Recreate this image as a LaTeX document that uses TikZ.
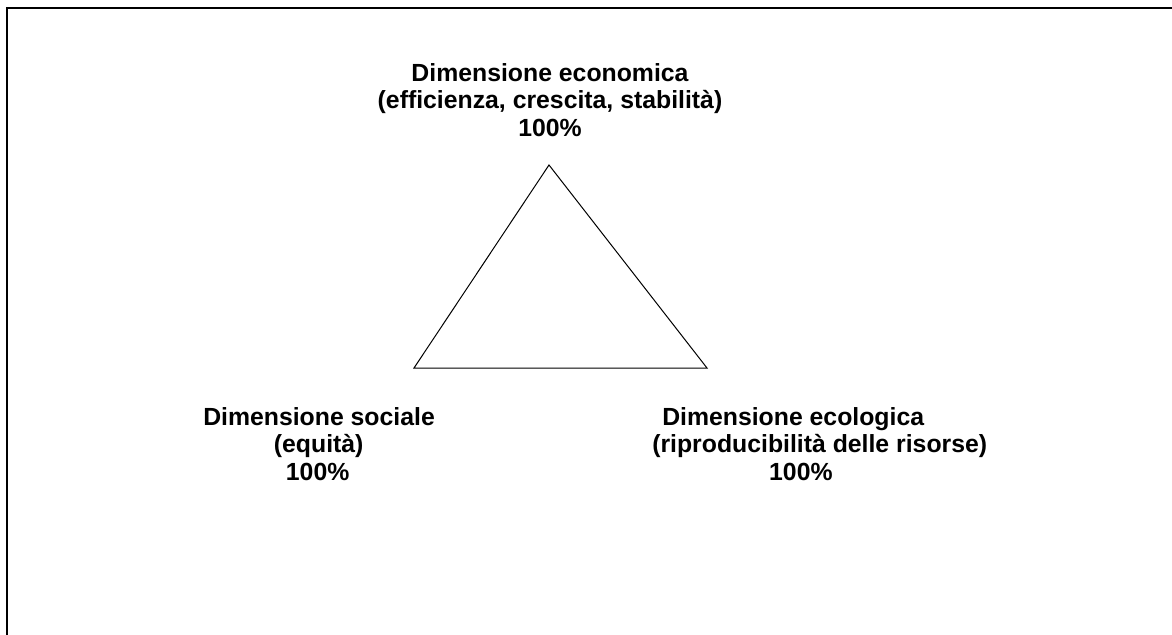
\documentclass[tikz,border=0pt]{standalone}
\usepackage{fontspec}
\setmainfont{Liberation Sans}

\begin{document}
\begin{tikzpicture}
		[
			x=0.75pt, y=-0.75pt,
			dim/.style={font=\bfseries\fontsize{18.6}{20.6}\selectfont, inner sep=0pt},
			dimlow/.style={dim, align=left, anchor=west},
			frame/.style={line width=1.5pt},
		]

		\useasboundingbox (0,0) rectangle (1172,635);

		% Frame
		\draw[frame] (7,635) -- (7,8) -- (1172,8);

		% Corners
		\foreach \name/\x/\y in
		{
			eco/549/165,
			soc/414/368,
			ecl/707/368
		}
			\coordinate (\name) at (\x,\y);

		% Triangle
		\draw[line width=0.75pt] (eco) -- (soc) -- (ecl) -- cycle;

		% Labels
		\node[dim, align=center] (leco) at (550,100)
			{Dimensione economica\\(efficienza, crescita, stabilità)\\100\%};
		\node[dimlow] (lsoc) at (203,444)
			{Dimensione sociale\\\hspace*{53pt}(equità)\\\hspace*{62pt}100\%};
		\node[dimlow] (lecl) at (652,444)
			{\hspace*{7.5pt}Dimensione ecologica\\(riproducibilità delle risorse)\\\hspace*{87.7pt}100\%};

		\end{tikzpicture}
\end{document}
